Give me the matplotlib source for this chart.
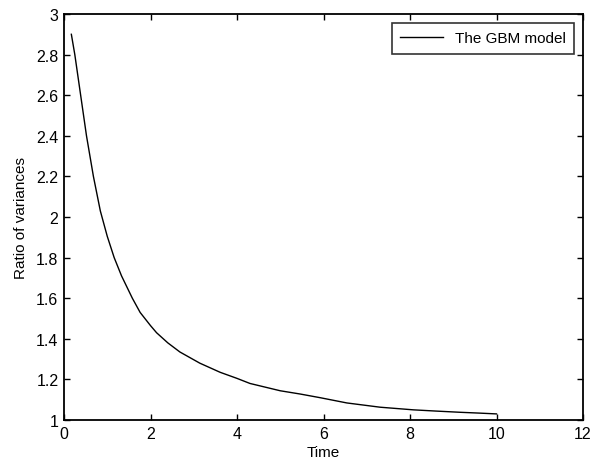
import matplotlib
matplotlib.use("Agg")
import matplotlib.pyplot as plt

time = [0.17, 0.25, 0.385, 0.52, 0.68, 0.84, 1.0, 1.16, 1.33, 1.58, 1.76, 2.0, 2.14,
        2.4, 2.68, 3.14, 3.61, 4.0, 4.3, 5.0, 5.46, 5.92, 6.54, 7.31, 8.08, 8.6,
        9.16, 9.6, 10.0]
ratio = [2.90, 2.80, 2.60, 2.40, 2.20, 2.03, 1.905, 1.80, 1.71, 1.60, 1.53, 1.465, 1.43,
         1.38, 1.335, 1.28, 1.235, 1.205, 1.18, 1.144, 1.128, 1.11, 1.084, 1.063, 1.05, 1.044,
         1.038, 1.034, 1.03]
xticks = [0, 2, 4, 6, 8, 10, 12]
yticks = [1, 1.2, 1.4, 1.6, 1.8, 2, 2.2, 2.4, 2.6, 2.8, 3]
ytick_labels = ["1", "1.2", "1.4", "1.6", "1.8", "2", "2.2", "2.4", "2.6", "2.8", "3"]

plt.rcParams['font.family'] = ['Liberation Sans', 'DejaVu Sans']

fig = plt.figure(figsize=(5.93, 4.64), dpi=100)
ax = fig.add_axes([64/593, 1 - 421/464, (583-64)/593, (421-15)/464])
ax.plot(time, ratio, color='black', linewidth=1.0, label='The GBM model')
ax.set_xlim(0, 12)
ax.set_ylim(1, 3)
ax.set_xticks(xticks)
ax.set_yticks(yticks)
ax.set_yticklabels(ytick_labels)
ax.tick_params(direction='in', top=True, right=True, length=4, width=1,
               labelsize=11.5, pad=4)
for s in ax.spines.values():
    s.set_linewidth(1.3)
ax.set_xlabel('Time', fontsize=11, labelpad=3)
ax.set_ylabel('Ratio of variances', fontsize=11, labelpad=6)
leg = ax.legend(loc='upper right', fontsize=11, frameon=True, fancybox=False,
                edgecolor='black', handlelength=2.8, borderpad=0.55,
                bbox_to_anchor=(0.998, 0.997))
leg.get_frame().set_linewidth(1.2)
fig.savefig('out.png', dpi=100, facecolor='white')
